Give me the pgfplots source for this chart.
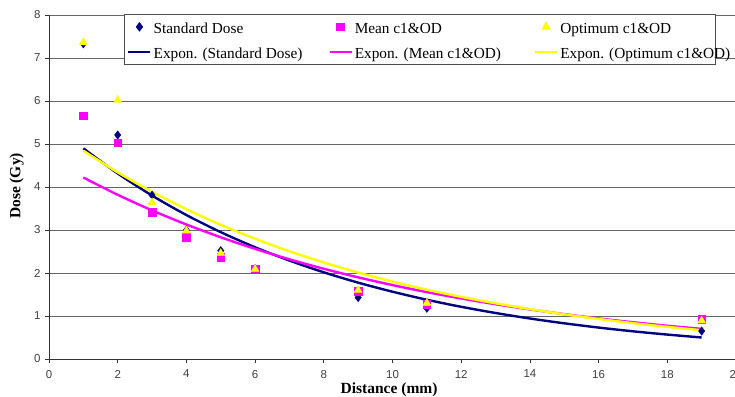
\documentclass[border=0pt]{standalone}
\usepackage{fontspec}
\setmainfont{Liberation Serif}
\newfontfamily\arialfont{Liberation Sans}
\usepackage{pgfplots}
\pgfplotsset{compat=1.18}
\definecolor{navyc}{RGB}{0,0,128}
\definecolor{magc}{RGB}{255,0,255}
\definecolor{yelc}{RGB}{255,255,0}
\begin{document}
\begin{tikzpicture}
\begin{axis}[
  scale only axis, width=687pt, height=344pt,
  xmin=0, xmax=20, ymin=0, ymax=8,
  xtick={0,2,...,20}, ytick={0,1,...,8},
  axis lines*=left,
  axis line style={black!80, line width=0.8pt},
  tick style={black!80, line width=0.8pt},
  tick align=outside, major tick length=4pt,
  ymajorgrids, major grid style={black!60, line width=0.8pt},
  /pgf/number format/assume math mode=true,
  ticklabel style={font=\arialfont\fontsize{11.5}{13}\selectfont, text=black!75},
  xticklabel style={yshift=-3.5pt},
  yticklabel style={xshift=-1pt},
  label style={font=\fontsize{15.5}{18}\selectfont\bfseries},
  xlabel={Distance (mm)},
  ylabel={Dose (Gy)},
  xlabel style={at={(axis description cs:0.495,-0.0698)}, anchor=north, inner sep=0pt},
  ylabel style={at={(axis description cs:-0.0415,0.503)}, anchor=base, inner sep=0pt},
  legend columns=3,
  legend cell align=left,
  legend image code/.code={\draw[#1, mark repeat=2, mark phase=2] plot coordinates {(0pt,0pt) (11pt,0pt) (22pt,0pt)};},
  legend style={at={(axis description cs:0.109,1.003)}, anchor=north west,
    draw=black!70, line width=0.8pt, fill=white,
    font=\fontsize{15.3}{18}\selectfont,
    inner xsep=3pt, inner ysep=4pt,
    nodes={inner sep=2pt, text depth=0pt, text height=13pt},
    row sep=8pt,
    /tikz/column 2/.style={column sep=24pt},
    /tikz/column 4/.style={column sep=31pt}},
]
\addplot[only marks, mark=diamond*, mark size=4.2pt, mark options={fill=navyc, draw=navyc}]
  coordinates {(1,7.33) (2,5.21) (3,3.81) (4,3.0) (5,2.52) (6,2.1) (9,1.43) (11,1.18) (19,0.65)};
\addlegendentry{Standard Dose}
\addplot[only marks, mark=square*, mark size=3.8pt, mark options={fill=magc, draw=magc}]
  coordinates {(1,5.66) (2,5.03) (3,3.41) (4,2.83) (5,2.37) (6,2.1) (9,1.57) (11,1.28) (19,0.92)};
\addlegendentry{Mean c1\&OD}
\addplot[only marks, mark=triangle*, mark size=4.6pt, mark options={fill=yelc, draw=yelc}]
  coordinates {(1,7.36) (2,6.02) (3,3.64) (4,2.98) (5,2.46) (6,2.09) (9,1.6) (11,1.3) (19,0.89)};
\addlegendentry{Optimum c1\&OD}
\addplot[navyc, line width=2.4pt, smooth] coordinates {
(1,4.898) (2,4.315) (3,3.801) (4,3.348) (5,2.950) (6,2.598) (7,2.289) (8,2.016) (9,1.776) (10,1.565)
(11,1.378) (12,1.214) (13,1.070) (14,0.942) (15,0.830) (16,0.731) (17,0.644) (18,0.568) (19,0.500)};
\addlegendentry{Expon. (Standard Dose)}
\addplot[magc, line width=2.4pt, smooth] coordinates {
(1,4.220) (2,3.819) (3,3.456) (4,3.128) (5,2.831) (6,2.562) (7,2.318) (8,2.098) (9,1.899) (10,1.719)
(11,1.555) (12,1.408) (13,1.274) (14,1.153) (15,1.043) (16,0.944) (17,0.855) (18,0.773) (19,0.700)};
\addlegendentry{Expon. (Mean c1\&OD)}
\addplot[yelc, line width=2.4pt, smooth] coordinates {
(1,4.846) (2,4.341) (3,3.889) (4,3.484) (5,3.121) (6,2.796) (7,2.505) (8,2.244) (9,2.010) (10,1.801)
(11,1.613) (12,1.445) (13,1.295) (14,1.160) (15,1.039) (16,0.931) (17,0.834) (18,0.747) (19,0.669)};
\addlegendentry{\makebox[150pt][l]{Expon. (Optimum c1\&OD)}}
\end{axis}
\pgfresetboundingbox
\useasboundingbox (-49pt,-37pt) rectangle (686pt,359pt);
\end{tikzpicture}
\end{document}
